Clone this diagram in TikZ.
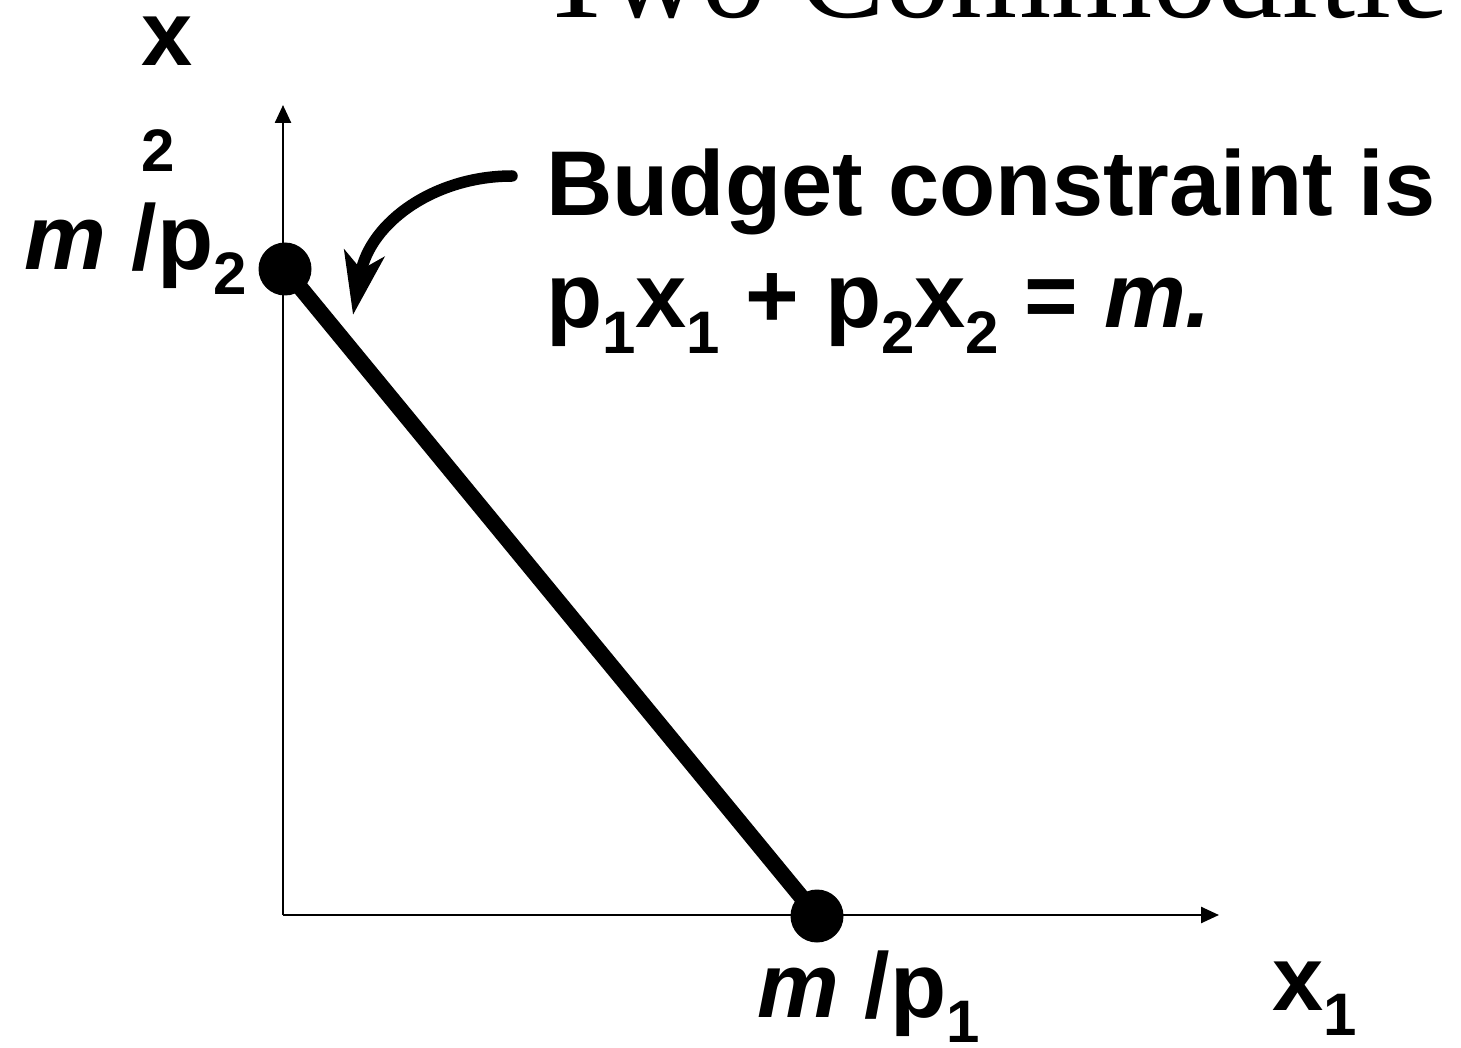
\documentclass[tikz,border=0pt]{standalone}
\usepackage{fontspec}
\setmainfont{Liberation Sans}
\newfontfamily\titlefont{Liberation Serif}
\usetikzlibrary{arrows.meta}

\newcommand{\lowsub}[1]{\raisebox{-25pt}{\fontsize{60}{60}\selectfont #1}}

\begin{document}
\begin{tikzpicture}[x=1pt,y=-1pt,
  lbl/.style={inner sep=0pt, font=\fontsize{92}{110}\selectfont\bfseries},
  small/.style={inner sep=0pt, font=\fontsize{60}{60}\selectfont\bfseries},
  axis/.style={line width=2.5pt, -{Triangle[length=18pt,width=16pt]}},
  budget/.style={line width=16pt},
  dot/.style={circle, fill=black, minimum size=53pt, inner sep=0pt},
  pointer/.style={line width=11.5pt, line cap=round, -{Stealth[length=62pt,width=40pt,inset=16pt]}},
]
\useasboundingbox (0,0) rectangle (1461,1048);

% title (cut by the top edge)
\node[inner sep=0pt, anchor=base west, font=\titlefont\fontsize{130}{130}\selectfont] (title) at (537,18) {Two Commoditie};

% axes
\coordinate (O) at (283,915);
\coordinate (ytip) at (283,105);
\coordinate (xtip) at (1219,915);
\draw[axis] (O) -- (ytip);
\draw[axis] (O) -- (xtip);

% budget line
\coordinate (pA) at (285,269);
\coordinate (pB) at (817,916);
\draw[budget] (pA) -- (pB);
\node[dot] (A) at (pA) {};
\node[dot] (B) at (pB) {};

% labels
\node[lbl, anchor=base] (x2a) at (167,66) {x};
\node[small, anchor=base] (x2b) at (158,172) {2};
\node[lbl, anchor=base east] (mp2) at (247,270) {\textit{m} /p\lowsub{2}};
\node[lbl, anchor=base east] (mp1) at (980,1017) {\textit{m} /p\lowsub{1}};
\node[lbl, anchor=base west] (x1) at (1272,1010) {x\lowsub{1}};
\node[lbl, anchor=base west] (bc1) at (546,216) {Budget constraint is};
\node[lbl, anchor=base west] (bc2) at (546,328) {p\lowsub{1}x\lowsub{1} + p\lowsub{2}x\lowsub{2} = \textit{m.}};

% curved pointer
\coordinate (cs) at (512,176);
\coordinate (ce) at (353,315);
\draw[pointer] (cs) .. controls (435,176) and (370,222) .. (ce);
\end{tikzpicture}
\end{document}
